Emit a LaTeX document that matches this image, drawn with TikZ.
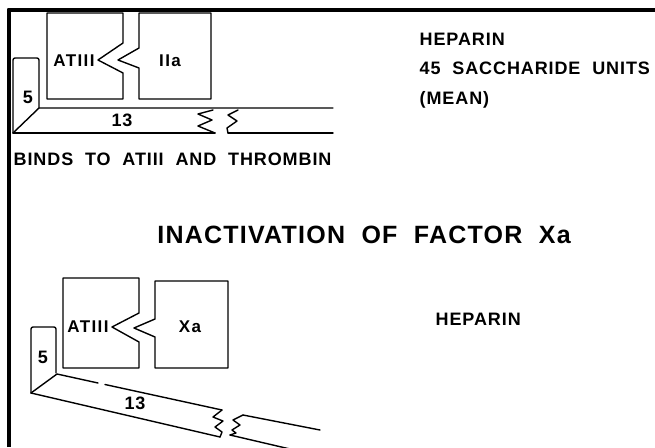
\documentclass[tikz,border=0pt]{standalone}
\usepackage{fontspec}
\setmainfont{Liberation Sans}[LetterSpace=5,WordSpace=2]
\newfontfamily\labfont{Liberation Sans}[LetterSpace=8]
\begin{document}
\begin{tikzpicture}[x=1pt,y=-1pt,line width=1.4pt,line join=round,line cap=round,
  txt/.style={inner sep=0pt,anchor=base west,font=\bfseries\fontsize{18}{20}\selectfont},
  ttl/.style={inner sep=0pt,anchor=base,font=\bfseries\fontsize{25}{28}\selectfont},
  lbl/.style={inner sep=0pt,font=\labfont\bfseries\fontsize{17}{19}\selectfont},
  num/.style={inner sep=0pt,font=\bfseries\fontsize{18}{20}\selectfont},
  frame/.style={line width=4pt,line cap=butt}]
\useasboundingbox (0,0) rectangle (655,447);
% frame
\draw[frame] (8.5,447) -- (8.5,9.5) -- (655,9.5);

% ---------- upper diagram ----------
\draw (123,43) -- (123,13) -- (47,13) -- (47,99) -- (123,99) -- (123,73) -- (98,60) -- cycle;
\draw (139,48) -- (139,13) -- (211,13) -- (211,99) -- (139,99) -- (139,68) -- (118,60) -- cycle;
\draw[rounded corners=2pt] (39,108) -- (39,58) -- (13,58) -- (13,133);
\draw (13,133) -- (39,108) -- (333,108);
\draw (13,133) -- (215,133);
\draw (228,133) -- (333,133);
\draw (213,110) -- (198,114) -- (212,120) -- (198,126) -- (215,133);
\draw (238,110) -- (228,115) -- (237,121) -- (227,128) -- (228,133);
\node[lbl] (at1) at (74,61) {ATIII};
\node[lbl] (iia) at (170,61) {IIa};
\node[num] (f1) at (28,97) {5};
\node[num] (t1) at (122,120) {13};
\node[txt] (binds) at (13,165) {BINDS TO ATIII AND THROMBIN};
\node[txt] (hep1) at (419,45) {HEPARIN};
\node[txt] (sac) at (419,74.5) {45 SACCHARIDE UNITS};
\node[txt] (mean) at (419,104) {(MEAN)};

% ---------- title ----------
\node[ttl] (title) at (364,243) {INACTIVATION OF FACTOR Xa};

% ---------- lower diagram ----------
\draw (139,313) -- (139,278) -- (63,278) -- (63,368) -- (139,368) -- (139,342) -- (112,327) -- cycle;
\draw (155,319) -- (155,281) -- (228,281) -- (228,368) -- (155,368) -- (155,337) -- (134,328) -- cycle;
\draw[rounded corners=2pt] (56,373) -- (56,327) -- (31,327) -- (31,393);
\draw (31,393) -- (57,374) -- (98,383);
\draw (105,384.5) -- (222,410);
\draw (31,393) -- (220,437);
\draw (222,410) -- (213,417) -- (223,421) -- (215,427) -- (222,432) -- (220,437);
\draw (243,415) -- (233,420) -- (240,425) -- (232,430) -- (236,433) -- (230,435);
\draw (243,415) -- (320,430);
\draw (230,435) -- (290,449);
\node[lbl] (at2) at (88,327) {ATIII};
\node[lbl] (xa) at (190,327) {Xa};
\node[num] (f2) at (43,357) {5};
\node[num] (t2) at (135,403) {13};
\node[txt] (hep2) at (435,325) {HEPARIN};
\end{tikzpicture}
\end{document}
